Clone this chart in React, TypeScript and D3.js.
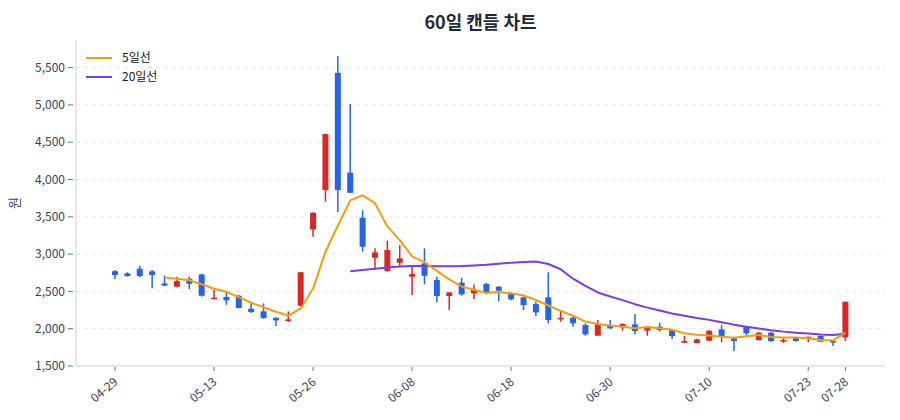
import { useEffect } from "react"
import * as d3 from "d3"

// trading days shown on the chart (2026)
const DATES = [
  "04-29", "04-30", "05-04", "05-06", "05-07", "05-08", "05-11", "05-12", "05-13", "05-14",
  "05-15", "05-18", "05-19", "05-20", "05-21", "05-22", "05-26", "05-27", "05-28", "05-29",
  "06-01", "06-02", "06-04", "06-05", "06-08", "06-09", "06-10", "06-11", "06-12", "06-15",
  "06-16", "06-17", "06-18", "06-19", "06-22", "06-23", "06-24", "06-25", "06-26", "06-29",
  "06-30", "07-01", "07-02", "07-03", "07-06", "07-07", "07-08", "07-09", "07-10", "07-13",
  "07-14", "07-15", "07-16", "07-20", "07-21", "07-22", "07-23", "07-24", "07-27", "07-28",
]

const OPEN = [
  2770, 2742, 2804, 2769, 2607, 2563, 2670, 2728, 2407, 2425,
  2442, 2268, 2233, 2147, 2103, 2308, 3331, 3858, 5430, 4092,
  3487, 2951, 2773, 2884, 2697, 2876, 2652, 2438, 2616, 2474,
  2599, 2563, 2478, 2420, 2330, 2420, 2125, 2147, 2049, 1906,
  2040, 2018, 2058, 1973, 2027, 1982, 1812, 1808, 1839, 1991,
  1871, 2027, 1848, 1946, 1826, 1884, 1879, 1902, 1835, 1884,
]
const HIGH = [
  2786, 2756, 2840, 2786, 2715, 2697, 2697, 2737, 2518, 2487,
  2451, 2340, 2340, 2150, 2233, 2760, 3560, 4615, 5654, 5011,
  3586, 3077, 3179, 3121, 2831, 3077, 2697, 2490, 2683, 2594,
  2616, 2572, 2487, 2429, 2362, 2756, 2250, 2183, 2072, 2116,
  2116, 2072, 2197, 2020, 2080, 1990, 1902, 1865, 1980, 2049,
  1893, 2030, 1955, 1955, 1884, 1893, 1893, 1910, 1840, 2362,
]
const LOW = [
  2666, 2697, 2693, 2541, 2576, 2555, 2528, 2429, 2400, 2321,
  2273, 2210, 2134, 2036, 2090, 2300, 3233, 3702, 3566, 3822,
  3032, 2786, 2764, 2831, 2451, 2594, 2353, 2250, 2442, 2397,
  2460, 2371, 2380, 2250, 2170, 2072, 2094, 2027, 1906, 1906,
  1996, 1973, 1924, 1906, 1960, 1862, 1808, 1805, 1835, 1817,
  1701, 1915, 1840, 1826, 1808, 1826, 1817, 1826, 1768, 1835,
]
const CLOSE = [
  2720, 2706, 2706, 2719, 2576, 2639, 2603, 2442, 2415, 2380,
  2277, 2224, 2143, 2112, 2125, 2756, 3554, 4609, 3858, 3822,
  3099, 3023, 3054, 2943, 2733, 2710, 2438, 2487, 2460, 2520,
  2487, 2509, 2394, 2317, 2219, 2116, 2147, 2072, 1924, 2063,
  2005, 2063, 1969, 2013, 1982, 1902, 1835, 1857, 1973, 1893,
  1835, 1938, 1946, 1835, 1848, 1835, 1893, 1826, 1817, 2362,
]

const Y_TICKS = [1500, 2000, 2500, 3000, 3500, 4000, 4500, 5000, 5500]
const X_TICK_IDX = [0, 8, 16, 24, 32, 40, 48, 56, 59]

const UP = "#dc2626"
const DOWN = "#2563eb"
const MA5_COLOR = "#f59e0b"
const MA20_COLOR = "#7c3aed"
const GRID = "#e5e7eb"
const AXIS_TEXT = "#374151"
const FONT = "'Noto Sans CJK KR', 'Noto Sans', sans-serif"

function movingAvg(values: number[], n: number): [number, number][] {
  const out: [number, number][] = []
  for (let i = n - 1; i < values.length; i++) {
    out.push([i, d3.mean(values.slice(i - n + 1, i + 1)) as number])
  }
  return out
}

export default function App() {
  useEffect(() => {
    document.body.style.margin = "0"
  }, [])

  const W = 900
  const H = 420
  const M = { top: 40, right: 15, bottom: 54, left: 76 }
  const plotB = H - M.bottom

  const x = d3.scaleLinear().domain([-3.15, 62.2]).range([M.left, W - M.right])
  const y = d3.scaleLinear().domain([1500, 5870]).range([plotB, M.top])
  const fmt = d3.format(",")

  const line = d3
    .line<[number, number]>()
    .x((d) => x(d[0]))
    .y((d) => y(d[1]))

  const ma5 = movingAvg(CLOSE, 5)
  const ma20 = movingAvg(CLOSE, 20)
  const bodyW = 6

  return (
    <svg width={W} height={H} style={{ display: "block", fontFamily: FONT, background: "#fff" }}>
      <text x={(M.left + W - M.right) / 2} y={29} textAnchor="middle" fontSize={18} fontWeight={700} fill="#1f2937">
        60일 캔들 차트
      </text>

      {/* grid */}
      {Y_TICKS.filter((t) => t > 1500).map((t) => (
        <line key={t} x1={M.left} x2={W - M.right} y1={y(t)} y2={y(t)} stroke={GRID} strokeWidth={1} strokeDasharray="4 4" />
      ))}

      {/* axes */}
      <line x1={M.left} x2={M.left} y1={M.top} y2={plotB} stroke={GRID} strokeWidth={2} />
      <line x1={M.left} x2={W - M.right} y1={plotB} y2={plotB} stroke={GRID} strokeWidth={2} />

      {Y_TICKS.map((t) => (
        <g key={t}>
          <line x1={68} x2={73} y1={y(t)} y2={y(t)} stroke="#6b7280" strokeWidth={1} />
          <text x={65} y={y(t)} dy="0.35em" textAnchor="end" fontSize={12} fill={AXIS_TEXT}>
            {fmt(t)}
          </text>
        </g>
      ))}

      {X_TICK_IDX.map((i) => (
        <g key={i}>
          <line x1={x(i)} x2={x(i)} y1={plotB + 1} y2={plotB + 5} stroke="#6b7280" strokeWidth={1} />
          <text
            transform={`translate(${x(i) + 1},${plotB + 14}) rotate(-40)`}
            textAnchor="end"
            dy="0.35em"
            fontSize={12}
            fill={AXIS_TEXT}
          >
            {DATES[i]}
          </text>
        </g>
      ))}

      <text transform={`translate(19,${(M.top + plotB) / 2}) rotate(-90)`} textAnchor="middle" fontSize={13} fill={AXIS_TEXT}>
        원
      </text>

      {/* candles */}
      {DATES.map((d, i) => {
        const up = CLOSE[i] >= OPEN[i]
        const c = up ? UP : DOWN
        const top = y(Math.max(OPEN[i], CLOSE[i]))
        const bot = y(Math.min(OPEN[i], CLOSE[i]))
        return (
          <g key={d}>
            <line x1={x(i)} x2={x(i)} y1={y(HIGH[i])} y2={y(LOW[i])} stroke={c} strokeWidth={1.5} />
            <rect x={x(i) - bodyW / 2} y={top} width={bodyW} height={Math.max(bot - top, 1.5)} fill={c} />
          </g>
        )
      })}

      {/* moving averages */}
      <path d={line(ma20) ?? ""} fill="none" stroke={MA20_COLOR} strokeWidth={2} strokeLinejoin="round" />
      <path d={line(ma5) ?? ""} fill="none" stroke={MA5_COLOR} strokeWidth={2} strokeLinejoin="round" />

      {/* legend */}
      <g fontSize={12} fill="#111827">
        <line x1={86} x2={112} y1={58} y2={58} stroke={MA5_COLOR} strokeWidth={2} />
        <text x={122} y={58} dy="0.35em">5일선</text>
        <line x1={86} x2={112} y1={77} y2={77} stroke={MA20_COLOR} strokeWidth={2} />
        <text x={122} y={77} dy="0.35em">20일선</text>
      </g>
    </svg>
  )
}
